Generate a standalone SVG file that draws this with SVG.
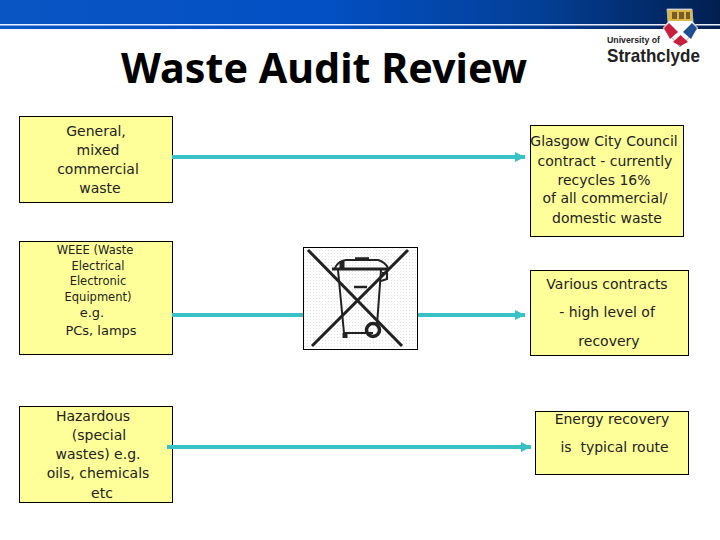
<svg xmlns="http://www.w3.org/2000/svg" width="720" height="540" viewBox="0 0 720 540">
<style>
.box{fill:#ffff99;stroke:#000;stroke-width:1}
.t{font-family:"DejaVu Sans",sans-serif;font-size:14px;fill:#222;text-anchor:middle;white-space:pre}
.s{font-size:11.5px}
.m{font-size:13px}
.c{stroke:#38c2c8;stroke-width:4;fill:none;marker-end:url(#a)}
</style>
<defs>
<linearGradient id="g" x1="0" x2="1" y1="0" y2="0"><stop offset="0" stop-color="#0a55c4"/><stop offset=".45" stop-color="#0250c4"/><stop offset=".75" stop-color="#033f96"/><stop offset="1" stop-color="#021f50"/></linearGradient>
<marker id="a" markerUnits="userSpaceOnUse" markerWidth="11" markerHeight="12" refX="10" refY="6" orient="auto"><path d="M0 1L10 6L0 11Z" fill="#38c2c8"/></marker>
<pattern id="d" width="3" height="3" patternUnits="userSpaceOnUse"><rect x="1" y="1" width="1" height="1" fill="#e2e2e2"/></pattern>
</defs>
<rect width="720" height="540" fill="#fff"/>
<g id="header"><rect width="720" height="29" fill="url(#g)"/><rect y="24" width="720" height="1.5" fill="#e8f0ff"/></g>
<text id="title" x="324" y="83" font-family="'Noto Sans',sans-serif" font-weight="bold" font-size="42" text-anchor="middle" textLength="406" lengthAdjust="spacingAndGlyphs" fill="#000">Waste Audit Review</text>
<g id="logo">
<path d="M667 9H692L693 22L698 28L680 47L663 28L668 22Z" fill="#fff" stroke="#aaa" stroke-width="1"/>
<rect x="668" y="10" width="24" height="11" fill="#d9b84a"/>
<rect x="672" y="12" width="5" height="7" fill="#7a5a28"/><rect x="679" y="12" width="5" height="7" fill="#7a5a28"/><rect x="686" y="12" width="4" height="7" fill="#7a5a28"/>
<path d="M664 28L669 23L678 32L670 39Z" fill="#c8203c"/>
<path d="M697 28L692 23L683 32L691 39Z" fill="#1f4f8f"/>
<path d="M680.500 35L688 42L680.500 46L673 42Z" fill="#c8203c"/>
<text x="607" y="42.500" font-family="'Liberation Sans',sans-serif" font-weight="bold" font-size="9.500" textLength="53" lengthAdjust="spacingAndGlyphs" fill="#222">University of</text>
<text x="607" y="62" font-family="'Liberation Sans',sans-serif" font-weight="bold" font-size="19" textLength="93" lengthAdjust="spacingAndGlyphs" fill="#222">Strathclyde</text>
</g>
<g id="n1"><rect class="box" x="19.500" y="116.500" width="153" height="86"/>
<text class="t" x="96" y="136">General,</text><text class="t" x="98" y="155">mixed</text><text class="t" x="98" y="174">commercial</text><text class="t" x="100" y="193">waste</text></g>
<g id="n2"><rect class="box" x="19.500" y="241.500" width="153" height="113"/>
<text class="t s" x="95" y="254">WEEE (Waste</text><text class="t s" x="98" y="270">Electrical</text><text class="t s" x="98" y="285">Electronic</text><text class="t s" x="98" y="301">Equipment)</text><text class="t m" x="92" y="317">e.g.</text><text class="t m" x="101" y="335">PCs, lamps</text></g>
<g id="n3"><rect class="box" x="19.500" y="406.500" width="153" height="96"/>
<text class="t" x="93" y="421">Hazardous</text><text class="t" x="99" y="440">(special</text><text class="t" x="98" y="459">wastes) e.g.</text><text class="t" x="98" y="478">oils, chemicals</text><text class="t" x="102" y="498">etc</text></g>
<g id="n4"><rect class="box" x="530.500" y="125.500" width="153" height="111"/>
<text class="t" x="604" y="146">Glasgow City Council</text><text class="t" x="605" y="166">contract - currently</text><text class="t" x="604" y="185">recycles 16%</text><text class="t" x="605" y="203">of all commercial/</text><text class="t" x="607" y="223">domestic waste</text></g>
<g id="n5"><rect class="box" x="530.500" y="270.500" width="158" height="85"/>
<text class="t" x="607" y="289">Various contracts</text><text class="t" x="607" y="317">- high level of</text><text class="t" x="609" y="346">recovery</text></g>
<g id="n6"><rect class="box" x="535.500" y="411.500" width="153" height="63"/>
<text class="t" x="612" y="424">Energy recovery</text><text class="t" x="614.500" y="452">is  typical route</text></g>
<g id="connectors">
<line class="c" x1="172" y1="157" x2="525" y2="157"/>
<line class="c" x1="172" y1="315" x2="525" y2="315"/>
<line class="c" x1="167" y1="447" x2="531" y2="447"/>
</g>
<g id="bin">
<rect x="303.500" y="247.500" width="114" height="102" fill="#fff" stroke="#000"/>
<rect x="304" y="248" width="113" height="101" fill="url(#d)"/>
<g stroke="#222" fill="none">
<path d="M332 269H388" stroke-width="3"/>
<path d="M338 270L344 333H373M381 270L377 325" stroke-width="2"/>
<path d="M335 268Q338 261 346 260H378Q385 262 388 268" stroke-width="2"/>
<path d="M355 259H369" stroke-width="3.500"/>
<path d="M342 261V268" stroke-width="5"/>
<path d="M382 273H387V279L381 281" stroke-width="2"/>
<path d="M354 287H367" stroke-width="2.500"/>
<path d="M345 333V338" stroke-width="5"/>
<circle cx="373" cy="330" r="6.500" stroke-width="3.500"/>
<path d="M308 250L402 346M408 250L312 346" stroke-width="3"/>
</g></g>
</svg>
